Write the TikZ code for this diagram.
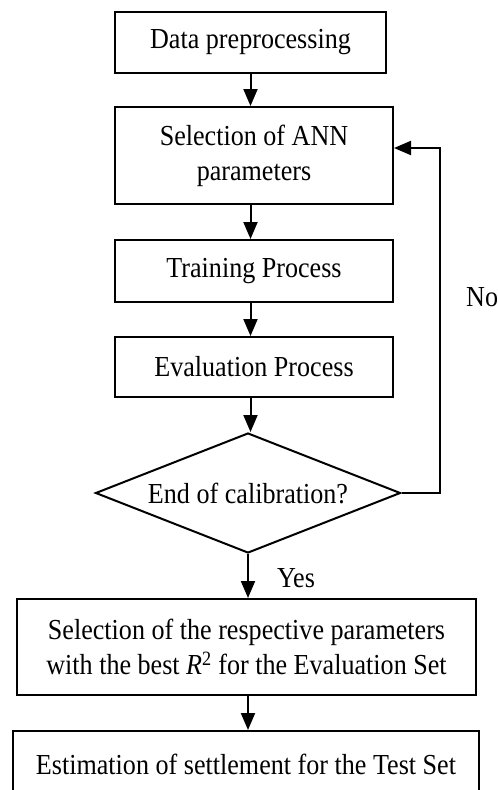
\documentclass[tikz,border=0pt]{standalone}
\usepackage{fontspec}
\setmainfont[FakeStretch=0.9]{Liberation Serif}
\usetikzlibrary{shapes.geometric,arrows.meta}
\begin{document}
\begin{tikzpicture}[x=1pt,y=-1pt,
  every node/.style={font=\fontsize{29}{35}\selectfont, text=black},
  box/.style={draw=black, line width=2pt, rectangle, inner sep=0pt, align=center},
  dec/.style={draw=black, line width=2pt, diamond, aspect=2.54, inner sep=0pt, minimum width=305pt, minimum height=120pt, align=center},
  arr/.style={draw=black, line width=2pt, -{Triangle[width=14pt,length=17pt]}},
  lbl/.style={inner sep=0pt}
]
\useasboundingbox (0,0) rectangle (498,790);
\node[box, minimum width=271pt, minimum height=61pt] (b1) at (250.5,42.5) {Data preprocessing};
\node[box, minimum width=278pt, minimum height=97pt] (b2) at (254,155.5) {Selection of ANN\\parameters};
\node[box, minimum width=278pt, minimum height=62pt] (b3) at (254,271) {Training Process};
\node[box, minimum width=278pt, minimum height=60pt] (b4) at (254,367) {Evaluation Process};
\node[dec] (d) at (248,493) {End of calibration?};
\node[box, minimum width=459pt, minimum height=96pt] (b5) at (246.5,647) {Selection of the respective parameters\\with the best \textit{R}\textsuperscript{2} for the Evaluation Set};
\node[box, minimum width=466pt, minimum height=66pt] (b6) at (246,764) {Estimation of settlement for the Test Set};
\node[lbl, anchor=west] (no) at (466,297) {No};
\node[lbl] (yes) at (296,578) {Yes};

\draw[arr] (b1.south) -- (b1.south |- b2.north);
\draw[arr] (b1.south |- b2.south) -- (b1.south |- b3.north);
\draw[arr] (b1.south |- b3.south) -- (b1.south |- b4.north);
\draw[arr] (b1.south |- b4.south) -- (b1.south |- d.north);
\draw[arr] (d.south) -- (d.south |- b5.north);
\draw[arr] (d.south |- b5.south) -- (d.south |- b6.north);
\draw[arr] (d.east) -- ++(38,0) |- ([yshift=7.5pt]b2.east);
\end{tikzpicture}
\end{document}
